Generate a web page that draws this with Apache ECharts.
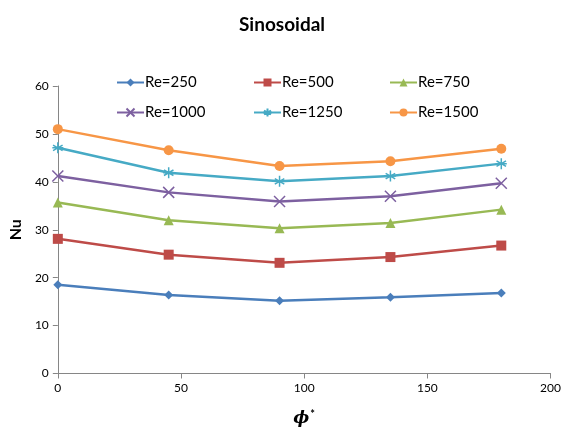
<!DOCTYPE html>
<html>
<head>
<meta charset="utf-8">
<script src="https://cdn.jsdelivr.net/npm/echarts@6/dist/echarts.min.js"></script>
<style>
  html, body { margin: 0; padding: 0; background: #fff; }
  #chart { width: 564px; height: 432px; }
</style>
</head>
<body>
<div id="chart"></div>
<script>
// Phase angle positions (x) and Nusselt number for each Reynolds number
const phi = [0, 45, 90, 135, 180];
const seriesNames = ['Re=250', 'Re=500', 'Re=750', 'Re=1000', 'Re=1250', 'Re=1500'];
const nu250  = [18.5, 16.4, 15.2, 15.9, 16.8];
const nu500  = [28.1, 24.8, 23.1, 24.3, 26.7];
const nu750  = [35.7, 32.0, 30.3, 31.4, 34.2];
const nu1000 = [41.2, 37.8, 35.9, 37.0, 39.7];
const nu1250 = [47.1, 41.9, 40.1, 41.2, 43.8];
const nu1500 = [51.0, 46.6, 43.3, 44.3, 46.9];
const xTicks = [0, 50, 100, 150, 200];
const yTicks = [0, 10, 20, 30, 40, 50, 60];

const values = [nu250, nu500, nu750, nu1000, nu1250, nu1500];
const colors = ['#4A7EBB', '#BE4B48', '#98B954', '#7D60A0', '#46AAC5', '#F79646'];
const starPath = 'path://M0,-10L0,10M-8.66,-5L8.66,5M-8.66,5L8.66,-5M-10,0L10,0';
const xPath = 'path://M-10,-10L10,10M-10,10L10,-10';
const symbols = ['diamond', 'rect', 'triangle', xPath, starPath, 'circle'];
const symbolSizes = [9, 10, 10, 11, 11, 10];

const font = 'Lato, "Open Sans", sans-serif';

const series = seriesNames.map((name, i) => {
  const stroked = i === 3 || i === 4;
  return {
    name: name,
    type: 'line',
    data: phi.map((p, k) => [p, values[i][k]]),
    symbol: symbols[i],
    symbolSize: symbolSizes[i],
    showAllSymbol: true,
    lineStyle: { color: colors[i], width: 2.5 },
    itemStyle: stroked
      ? { color: 'rgba(0,0,0,0)', borderColor: colors[i], borderWidth: 1.5 }
      : { color: colors[i], borderWidth: 0 },
    emphasis: { disabled: true },
    z: 2 + i
  };
});

// One legend block per entry, laid out as a 3 x 2 table
const legendCols = [111, 248, 384];
const legendRows = [70, 100];
const legends = seriesNames.map((name, i) => ({
  left: legendCols[i % 3],
  top: legendRows[Math.floor(i / 3)],
  data: [name],
  itemWidth: 27,
  itemHeight: 10,
  itemGap: 0,
  selectedMode: false,
  textStyle: { fontFamily: font, fontSize: 15, color: '#000', padding: [0, 0, 0, -4] }
}));

const chart = echarts.init(document.getElementById('chart'), null, { renderer: 'canvas' });
chart.setOption({
  animation: false,
  backgroundColor: '#fff',
  color: colors,
  title: {
    text: 'Sinosoidal',
    left: 'center',
    top: 10,
    textStyle: { fontFamily: font, fontSize: 19, fontWeight: 'bold', color: '#000' }
  },
  legend: legends,
  grid: { left: 55, right: 11, top: 86, bottom: 57, containLabel: false },
  xAxis: {
    type: 'value',
    min: xTicks[0],
    max: xTicks[xTicks.length - 1],
    interval: 50,
    name: '{phi|ϕ}{sup|*}',
    nameLocation: 'middle',
    nameGap: 35,
    nameTextStyle: {
      rich: {
        phi: { fontFamily: '"DejaVu Serif", serif', fontSize: 17, fontWeight: 'bold', fontStyle: 'italic', color: '#000' },
        sup: { fontFamily: font, fontSize: 11, fontWeight: 'bold', color: '#000', verticalAlign: 'top', padding: [0, 0, 9, 1] }
      }
    },
    axisLine: { lineStyle: { color: '#868686', width: 1 } },
    axisTick: { show: true, inside: false, length: 5, lineStyle: { color: '#868686' } },
    axisLabel: { fontFamily: font, fontSize: 12, color: '#000', margin: 9 },
    splitLine: { show: false }
  },
  yAxis: {
    type: 'value',
    min: yTicks[0],
    max: yTicks[yTicks.length - 1],
    interval: 10,
    name: 'Nu',
    nameLocation: 'middle',
    nameGap: 27,
    nameRotate: 90,
    nameTextStyle: { fontFamily: font, fontSize: 16, fontWeight: 'bold', color: '#000' },
    axisLine: { show: true, lineStyle: { color: '#868686', width: 1 } },
    axisTick: { show: true, inside: false, length: 5, lineStyle: { color: '#868686' } },
    axisLabel: { fontFamily: font, fontSize: 12, color: '#000', margin: 9 },
    splitLine: { show: false }
  },
  series: series
});
</script>
</body>
</html>
